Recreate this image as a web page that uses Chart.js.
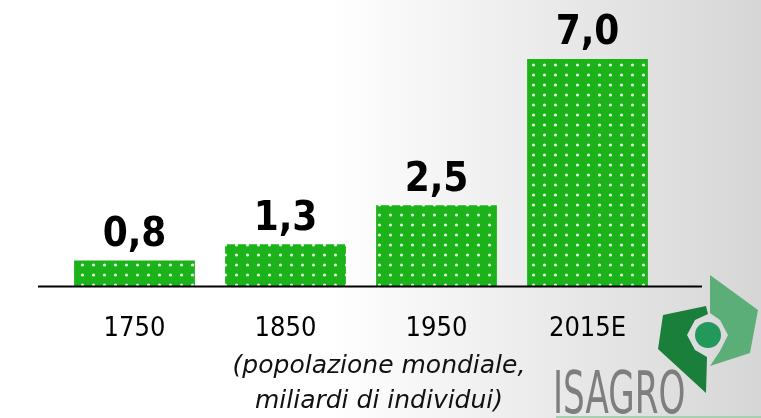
<!DOCTYPE html>
<html>
<head>
<meta charset="utf-8">
<script src="https://cdn.jsdelivr.net/npm/chart.js@4.4.1/dist/chart.umd.min.js"></script>
<style>
  body { margin: 0; background: #fff; }
  canvas { display: block; }
</style>
</head>
<body>
<canvas id="barChart" width="761" height="418"></canvas>
<script>
// data
const years = ['1750', '1850', '1950', '2015E'];
const population = [0.8, 1.3, 2.5, 7.0];
const valueLabels = ['0,8', '1,3', '2,5', '7,0'];
const subtitle = ['(popolazione mondiale,', 'miliardi di individui)'];

// dotted green fill
function dotPattern() {
    const c = document.createElement('canvas');
    c.width = 11; c.height = 10;
    const g = c.getContext('2d');
    g.fillStyle = '#1cb31a';
    g.fillRect(0, 0, 11, 10);
    g.fillStyle = 'rgba(255,255,255,0.85)';
    g.beginPath();
    g.arc(5.5, 5, 1.6, 0, Math.PI * 2);
    g.fill();
    return g.createPattern(c, 'repeat');
}

function poly(ctx, pts, color) {
    ctx.fillStyle = color;
    ctx.beginPath();
    pts.forEach((p, i) => i ? ctx.lineTo(p[0], p[1]) : ctx.moveTo(p[0], p[1]));
    ctx.closePath();
    ctx.fill();
}

const backdrop = {
    id: 'backdrop',
    beforeDraw(chart) {
        const ctx = chart.ctx;
        const grad = ctx.createLinearGradient(330, 0, 761, 0);
        grad.addColorStop(0, '#ffffff');
        grad.addColorStop(1, '#d6d6d6');
        ctx.save();
        ctx.fillStyle = grad;
        ctx.fillRect(0, 0, chart.width, chart.height);
        ctx.restore();
    }
};

const extras = {
    id: 'extras',
    afterDatasetsDraw(chart) {
        const ctx = chart.ctx;
        const y = chart.scales.y.getPixelForValue(0);
        ctx.save();
        // baseline
        ctx.strokeStyle = '#000';
        ctx.lineWidth = 2;
        ctx.beginPath();
        ctx.moveTo(38, y);
        ctx.lineTo(702, y);
        ctx.stroke();

        // value labels
        ctx.fillStyle = '#000';
        ctx.font = 'bold 40px "DejaVu Sans Condensed"';
        ctx.textAlign = 'center';
        ctx.textBaseline = 'bottom';
        chart.getDatasetMeta(0).data.forEach((bar, i) => {
            ctx.fillText(valueLabels[i], bar.x, bar.y - 5);
        });

        // subtitle
        ctx.font = 'italic 25px "DejaVu Sans"';
        ctx.fillStyle = '#111';
        ctx.textBaseline = 'middle';
        ctx.fillText(subtitle[0], 379, 366);
        ctx.fillText(subtitle[1], 379, 401);

        // logo
        poly(ctx, [[663, 315], [706, 306], [708, 314], [695, 320], [687, 335], [695, 350],
                   [707, 357], [706, 393], [658, 349]], '#1a7f3a');
        poly(ctx, [[710, 275], [758, 310], [750, 353], [710, 366], [720, 351], [728, 335],
                   [720, 320], [710, 313]], '#5cae78');
        ctx.fillStyle = '#22985a';
        ctx.beginPath();
        ctx.arc(708, 335, 13, 0, Math.PI * 2);
        ctx.fill();

        ctx.fillStyle = '#7e7e7e';
        ctx.font = '50px "DejaVu Sans Condensed"';
        ctx.textAlign = 'left';
        ctx.textBaseline = 'alphabetic';
        ctx.save();
        ctx.translate(553, 413);
        ctx.scale(0.76, 1.18);
        ctx.fillText('ISAGRO', 0, 0);
        ctx.restore();
        ctx.fillStyle = '#a9cfb2';
        ctx.fillRect(556, 416, 205, 2);
        ctx.restore();
    }
};

const ctx = document.getElementById('barChart').getContext('2d');
const chart = new Chart(ctx, {
    type: 'bar',
    data: {
        labels: years,
        datasets: [{
            data: population,
            backgroundColor: dotPattern(),
            borderWidth: 0,
            barPercentage: 0.8,
            categoryPercentage: 1
        }]
    },
    options: {
        responsive: false,
        animation: false,
        layout: { padding: { top: 59, left: 59, right: 98, bottom: 55 } },
        plugins: { legend: { display: false }, tooltip: { enabled: false } },
        scales: {
            x: {
                grid: { display: false },
                border: { display: false },
                ticks: {
                    color: '#000',
                    padding: 18,
                    font: { family: 'DejaVu Sans Condensed', size: 27 }
                }
            },
            y: { display: false, min: 0, max: 7 }
        }
    },
    plugins: [backdrop, extras]
});
</script>
</body>
</html>
